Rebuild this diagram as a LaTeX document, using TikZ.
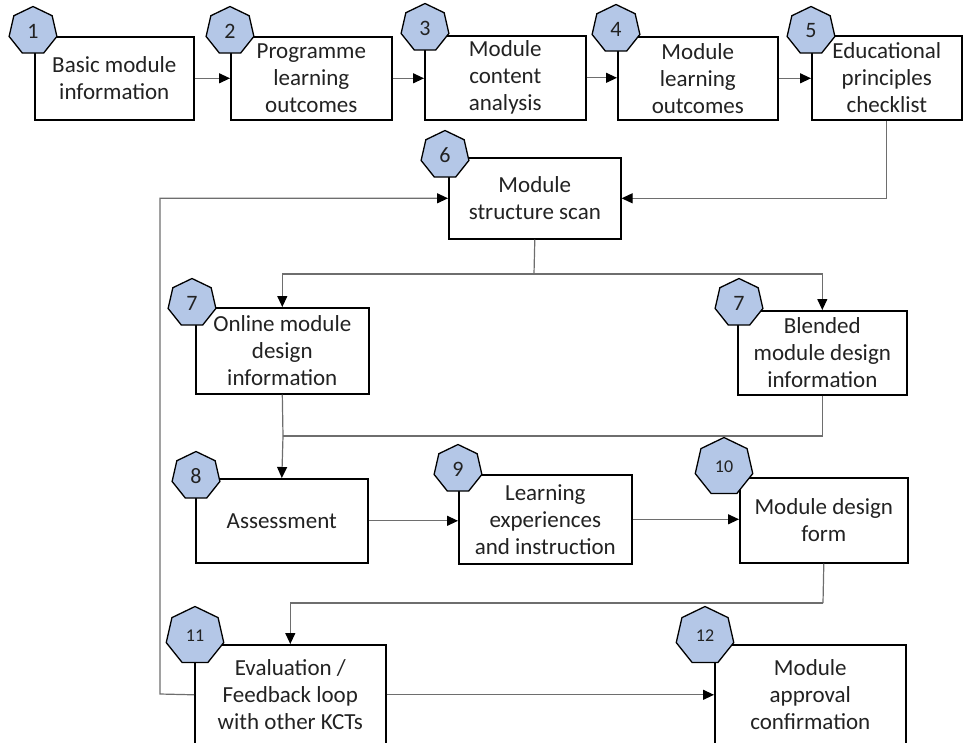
\documentclass[tikz,border=0pt]{standalone}
\usepackage{fontspec}
\setmainfont{Carlito}
\usetikzlibrary{shapes.geometric,arrows.meta}
\definecolor{heptfill}{HTML}{B4C7E7}
\definecolor{linegray}{HTML}{6E6E6E}
\definecolor{txt}{HTML}{222222}
\begin{document}
\begin{tikzpicture}[x=1pt,y=-1pt,
  box/.style={draw=black, line width=1.6pt, fill=white, rectangle, anchor=north west,
    inner sep=0pt, align=center, text=txt, font=\fontsize{23}{27}\selectfont},
  hept/.style={draw=black, line width=1.3pt, fill=heptfill, regular polygon,
    regular polygon sides=7, minimum size=49pt, inner sep=0pt, text=txt,
    font=\fontsize{22}{22}\selectfont},
  bighept/.style={hept, minimum size=59pt, font=\fontsize{18}{18}\selectfont},
  conn/.style={draw=linegray, line width=1.2pt},
  arr/.style={conn, -{Triangle[length=11pt,width=10pt,black]}}
]
\useasboundingbox (0,0) rectangle (963,742);
\clip (0,0) rectangle (963,742);

% boxes
\node[box, minimum width=159pt, minimum height=83pt] (b1) at (34,36) {Basic module\\information};
\node[box, minimum width=161pt, minimum height=83pt] (b2) at (230,36) {Programme\\learning\\outcomes};
\node[box, minimum width=161pt, minimum height=84pt] (b3) at (424,35) {Module\\content\\analysis};
\node[box, minimum width=160pt, minimum height=83pt] (b4) at (617,36) {Module\\learning\\outcomes};
\node[box, minimum width=150pt, minimum height=84pt] (b5) at (811,35) {Educational\\principles\\checklist};
\node[box, minimum width=172pt, minimum height=81pt] (b6) at (448,157) {Module\\structure scan};
\node[box, minimum width=173pt, minimum height=86pt] (b7a) at (195,307) {Online module\\design\\information};
\node[box, minimum width=169pt, minimum height=84pt] (b7b) at (737,310) {Blended\\module design\\information};
\node[box, minimum width=172pt, minimum height=84pt] (b8) at (195,478) {Assessment};
\node[box, minimum width=173pt, minimum height=89pt] (b9) at (458,474) {Learning\\experiences\\and instruction};
\node[box, minimum width=168pt, minimum height=85pt] (b10) at (739,477) {Module design\\form};
\node[box, minimum width=191pt, minimum height=100pt] (b11) at (194,644) {Evaluation /\\Feedback loop\\with other KCTs};
\node[box, minimum width=191pt, minimum height=100pt] (b12) at (714,644) {Module\\approval\\confirmation};

% connectors
\draw[arr] (b1.east) -- (b1.east -| b2.west);
\draw[arr] (b2.east) -- (b2.east -| b3.west);
\draw[arr] (b3.east) -- (b3.east -| b4.west);
\draw[arr] (b4.east) -- (b4.east -| b5.west);
\draw[arr] (b5.south) |- (b6.east);
\coordinate (s6) at (534,274);
\draw[conn] (b6.south) -- (s6);
\draw[arr] (s6) -| (b7a.north);
\draw[arr] (s6) -| (b7b.north);
\coordinate (j7) at (283,436);
\draw[conn] (b7b.south) |- (j7);
\draw[conn] (b7a.south) -- (j7);
\draw[arr] (j7) -- (b8.north);
\draw[arr] (b8.east) -- (b8.east -| b9.west);
\draw[arr] (b9.east) -- (b9.east -| b10.west);
\coordinate (j10) at (823,603);
\draw[conn] (b10.south) -- (j10);
\draw[arr] (j10) -| (b11.north);
\draw[arr] (b11.east) -- (b11.east -| b12.west);
\coordinate (lp) at (160,694);
\draw[arr] (b11.west) -- (lp) |- (b6.west);

% heptagons
\node[hept] (h1) at (33,31) {1};
\node[hept] (h2) at (230,31) {2};
\node[hept] (h3) at (425,28) {3};
\node[hept] (h4) at (616,29) {4};
\node[hept] (h5) at (811,31) {5};
\node[hept] (h6) at (445,155) {6};
\node[hept] (h7a) at (192,303) {7};
\node[hept] (h7b) at (739,303) {7};
\node[hept] (h8) at (196,476) {8};
\node[hept] (h9) at (458,469) {9};
\node[bighept] (h10) at (724,467) {10};
\node[bighept] (h11) at (195,636) {11};
\node[bighept] (h12) at (705,636) {12};
\end{tikzpicture}
\end{document}
